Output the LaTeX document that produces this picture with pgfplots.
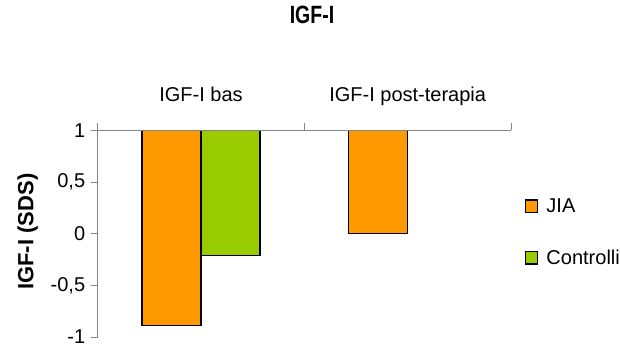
\documentclass[border=0pt]{standalone}
\usepackage{fontspec}
\setmainfont{Liberation Sans}
\newfontfamily\titlefont[FakeStretch=0.78]{Liberation Sans}
\usepackage{pgfplots}
\pgfplotsset{compat=1.18}
\definecolor{jia}{HTML}{FF9900}
\definecolor{ctrl}{HTML}{99CC00}
\definecolor{axgray}{HTML}{868686}
\begin{document}
\begin{tikzpicture}
\begin{axis}[
  at={(97.7bp,11bp)}, anchor=south west,
  scale only axis, width=413.3bp, height=206.5bp,
  xmin=-0.5, xmax=1.5, ymin=-1, ymax=1,
  axis x line*=top, axis y line*=left,
  axis on top,
  axis line style={draw=axgray, line width=1bp},
  every tick/.style={draw=axgray, line width=1bp},
  tick align=outside, major tick length=7bp,
  xtick={-0.5,0.5,1.5}, xticklabels={},
  extra x ticks={0,1},
  extra x tick labels={IGF-I bas, IGF-I post-terapia},
  extra x tick style={major tick length=0pt, xticklabel style={anchor=base, yshift=29.4bp}},
  ytick={-1,-0.5,0,0.5,1},
  /pgf/number format/assume math mode=true,
  /pgf/number format/use comma, /pgf/number format/fixed,
  yticklabel style={font=\fontsize{20bp}{24bp}\selectfont, xshift=-2bp},
  xticklabel style={font=\fontsize{20bp}{24bp}\selectfont},
  title={\titlefont\bfseries IGF-I},
  title style={font=\fontsize{25bp}{30bp}\selectfont, at={(axis description cs:0.5185,1.49)}, anchor=base},
  ylabel={IGF-I (SDS)},
  ylabel style={font=\fontsize{22bp}{26bp}\selectfont\bfseries, at={(axis description cs:-0.1558,0.51)}, anchor=base},
  legend style={draw=none, fill=none, at={(axis description cs:1.0331,0.67)}, anchor=north west,
    inner sep=0pt, outer sep=0pt, row sep=36bp, font=\fontsize{20bp}{24bp}\selectfont,
    nodes={inner sep=0pt}, /tikz/every odd column/.style={column sep=8bp}},
  legend cell align=left,
  legend image code/.code={\draw[#1, line width=1.3bp, draw=black] (0bp,-6.25bp) rectangle (12.5bp,6.25bp);},
]
\addplot[fill=jia, draw=black, line width=1.3bp] coordinates {(-0.285,1) (-0.285,-0.89) (0,-0.89) (0,1)} -- cycle;
\addlegendentry{JIA}
\addplot[fill=ctrl, draw=black, line width=1.3bp] coordinates {(0,1) (0,-0.21) (0.285,-0.21) (0.285,1)} -- cycle;
\addlegendentry{Controlli}
\addplot[fill=jia, draw=black, line width=1.3bp, forget plot] coordinates {(0.715,1) (0.715,0) (1,0) (1,1)} -- cycle;
\end{axis}
\pgfresetboundingbox
\path (0,0) rectangle (620bp,348bp);
\end{tikzpicture}
\end{document}
